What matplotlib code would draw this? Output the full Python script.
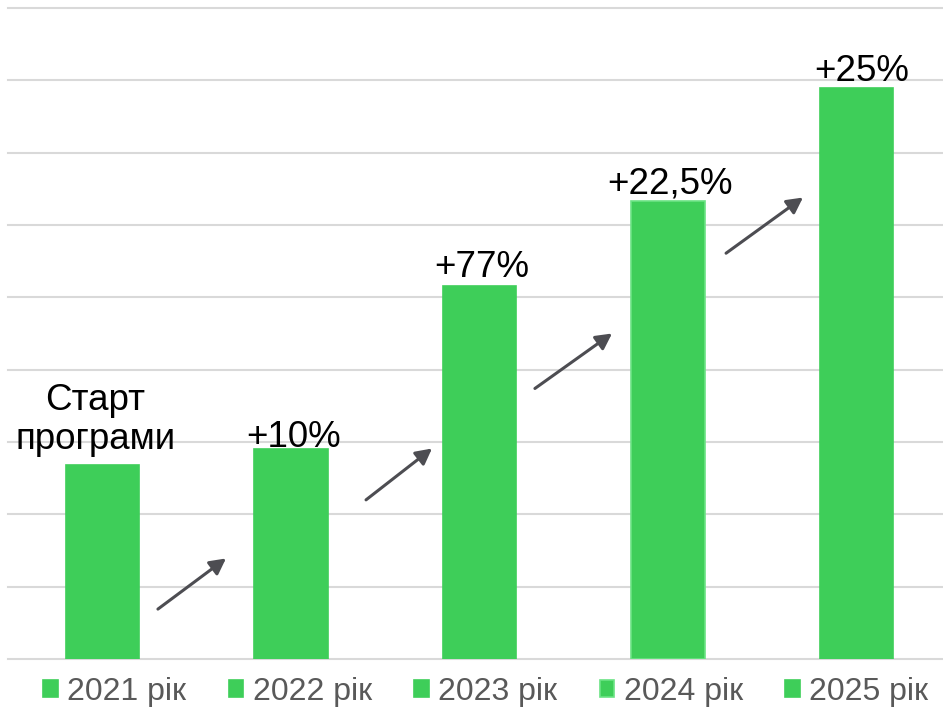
import matplotlib
matplotlib.use("Agg")
import matplotlib.pyplot as plt
from matplotlib.patches import Patch

years = ["2021 рік", "2022 рік", "2023 рік", "2024 рік", "2025 рік"]
values = [2.68, 2.90, 5.15, 6.33, 7.89]
labels = ["Старт\nпрограми", "+10%", "+77%", "+22,5%", "+25%"]

# arrow decorations between bars (offsets from left bar index, and heights)
arrow_dx0 = [0.294, 0.398, 0.294, 0.308]
arrow_dx1 = [0.655, 0.748, 0.703, 0.716]
arrow_y0 = [0.69, 2.20, 3.74, 5.61]
arrow_y1 = [1.39, 2.91, 4.50, 6.38]
label_gap_pt = [0, 1.5, 7.0, 5.5, 5.5]
label_dx_pt = [-5, 1.5, 1.5, 1.5, 3.5]

bar_color = "#3ECE59"
grid_color = "#D9D9D9"
arrow_color = "#4D4D52"

plt.rcParams["font.family"] = ["Liberation Sans", "DejaVu Sans"]

fig = plt.figure(figsize=(9.43, 7.09), dpi=100)
ax = fig.add_axes([8.25 / 943, 50 / 709, 942.5 / 943, 651 / 709])

x = list(range(len(years)))
edges = [bar_color, bar_color, bar_color, "#6BE384", bar_color]
ax.bar(x, values, width=0.39, color=bar_color, edgecolor=edges,
       linewidth=1.2, zorder=3)

ax.set_xlim(-0.5, 4.5)
ax.set_ylim(0, 9)
ax.set_yticks(range(0, 10))
ax.yaxis.grid(True, color=grid_color, linewidth=1.5, zorder=0)
for s in ax.spines.values():
    s.set_visible(False)
ax.tick_params(left=False, bottom=False, labelleft=False, labelbottom=False)
for gl in ax.get_ygridlines():
    gl.set_clip_on(False)

for i, (v, lab) in enumerate(zip(values, labels)):
    if i == 0:
        ax.annotate(lab, (i, v), xytext=(label_dx_pt[i], 6), textcoords="offset points",
                    ha="center", va="bottom", fontsize=26.5, color="black",
                    linespacing=1.15)
    else:
        ax.annotate(lab, (i, v), xytext=(label_dx_pt[i], label_gap_pt[i]),
                    textcoords="offset points",
                    ha="center", va="baseline", fontsize=26.5, color="black")

for i in range(4):
    ax.annotate("", xy=(i + arrow_dx1[i], arrow_y1[i]),
                xytext=(i + arrow_dx0[i], arrow_y0[i]),
                arrowprops=dict(arrowstyle="-|>,head_length=0.95,head_width=0.5",
                                color=arrow_color, lw=2.2, shrinkA=0, shrinkB=0),
                zorder=4)

handles = [Patch(facecolor=bar_color, edgecolor=e, linewidth=1.2) for e in edges]
fig.legend(handles, years, loc="center", bbox_to_anchor=(0.515, 17 / 709),
           ncol=5, frameon=False, fontsize=23, labelcolor="#595959",
           handlelength=0.45, handleheight=0.45, handletextpad=0.3,
           columnspacing=1.33, borderaxespad=0)

fig.savefig("out.png", dpi=100)
